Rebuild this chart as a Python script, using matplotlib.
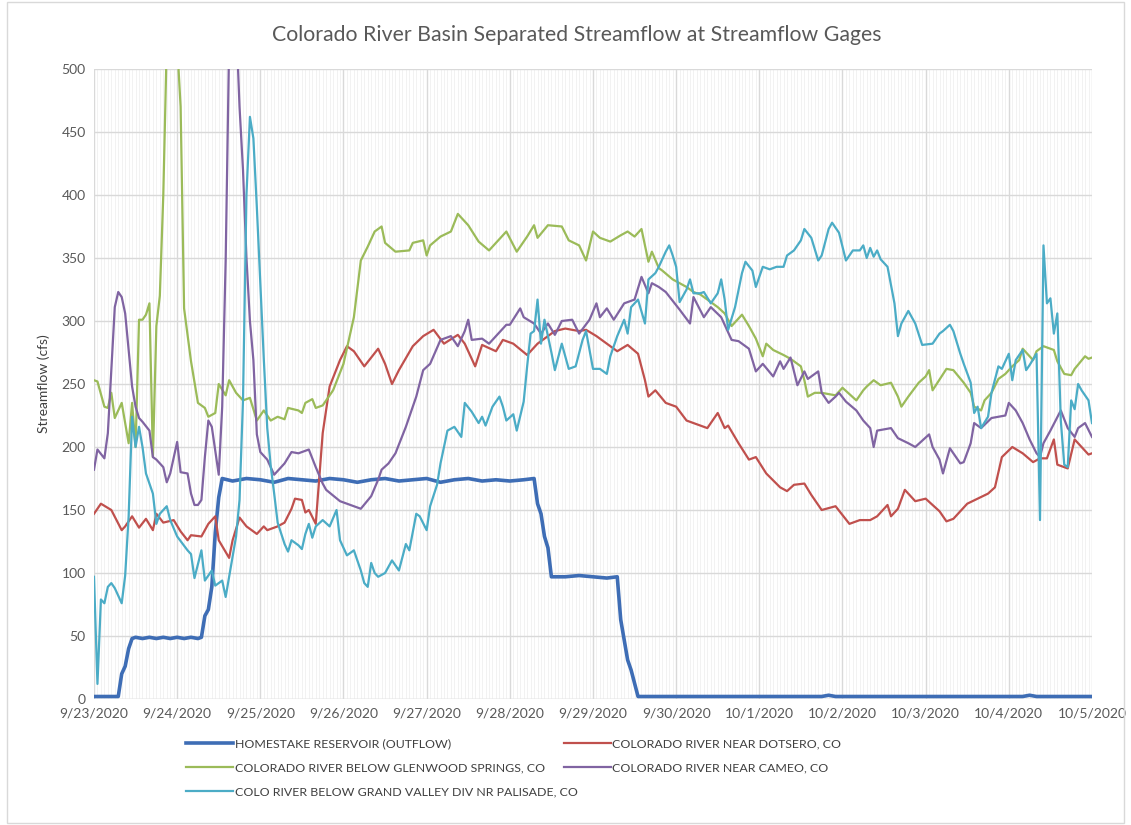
import matplotlib
matplotlib.use("Agg")
import matplotlib.pyplot as plt
from matplotlib.ticker import MultipleLocator

# hours since 9/23/2020 00:00 and streamflow (cfs)
day_labels = ["9/23/2020", "9/24/2020", "9/25/2020", "9/26/2020", "9/27/2020",
              "9/28/2020", "9/29/2020", "9/30/2020", "10/1/2020", "10/2/2020",
              "10/3/2020", "10/4/2020", "10/5/2020"]

homestake_h = [0, 7, 8, 9, 10, 11, 12, 14, 16, 18, 20, 22, 24, 26, 28, 30, 31,
               32, 33, 34, 35, 36, 37, 40, 44, 48, 52, 56, 60, 64, 68, 72, 76,
               80, 84, 88, 92, 96, 100, 104, 108, 112, 116, 120, 124, 127,
               128, 129, 130, 131, 132, 136, 140, 144, 148, 151,
               152, 153, 154, 155, 157, 180, 210, 212, 214, 240, 268, 270, 272, 288]
homestake_v = [2, 2, 20, 26, 40, 48, 49, 48, 49, 48, 49, 48, 49, 48, 49, 48, 49,
               66, 71, 89, 132, 160, 175, 173, 175, 174, 172, 175, 174, 173, 175, 174, 172,
               174, 175, 173, 174, 175, 172, 174, 175, 173, 174, 173, 174, 175,
               155, 147, 129, 120, 97, 97, 98, 97, 96, 97,
               63, 47, 31, 23, 2, 2, 2, 3, 2, 2, 2, 3, 2, 2]

dotsero_h = [0, 2, 5, 8, 9, 11, 13, 15, 17, 18, 20, 23, 25, 27, 28, 31, 33, 35, 36,
             39, 40, 42, 44, 47, 49, 50, 53, 55, 57, 58, 60, 61, 62, 64, 66, 68, 71,
             73, 75, 78, 82, 84, 86, 88, 92, 95, 98, 101, 105, 107, 110, 112, 116,
             118, 121, 125, 128, 133, 136, 140, 142, 145, 148, 151, 154, 157, 159,
             160, 162, 165, 168, 171, 173, 177, 180, 182, 183, 186, 189, 191, 194,
             198, 200, 202, 205, 207, 210, 214, 218, 221, 224, 226, 229, 230, 232,
             234, 237, 240, 244, 246, 248, 252, 255, 258, 260, 262, 265, 268, 271,
             273, 275, 277, 278, 281, 283, 285, 287, 288]
dotsero_v = [147, 155, 150, 134, 137, 145, 136, 143, 134, 147, 140, 142, 133, 126,
             130, 129, 139, 145, 126, 112, 126, 144, 137, 131, 137, 134, 137, 140,
             151, 159, 158, 148, 150, 139, 211, 248, 269, 280, 276, 264, 278, 266,
             250, 261, 280, 288, 293, 282, 289, 282, 264, 281, 276, 285, 282, 273,
             282, 292, 294, 292, 293, 288, 282, 276, 281, 274, 253, 240, 245, 235,
             232, 221, 219, 215, 227, 215, 217, 203, 190, 192, 179, 168, 165, 170,
             171, 162, 150, 153, 139, 142, 142, 145, 154, 145, 151, 166, 157, 159,
             149, 141, 143, 155, 159, 163, 168, 192, 200, 195, 188, 191, 191, 206,
             186, 183, 206, 200, 194, 195]

glenwood_h = [0, 1, 3, 4, 5, 6, 8, 10, 11, 12, 13, 14, 15, 16, 17, 18, 19, 20, 21,
              22, 23, 24, 25, 26, 28, 30, 32, 33, 35, 36, 38, 39, 41, 43, 45, 47,
              49, 51, 53, 55, 56, 59, 60, 61, 63, 64, 66, 67, 69, 72, 75, 77, 79,
              81, 83, 84, 87, 91, 92, 95, 96, 97, 100, 103, 105, 107, 108, 111,
              114, 116, 119, 122, 125, 127, 128, 131, 135, 137, 140, 142, 144, 146,
              149, 152, 154, 156, 158, 160, 161, 163, 164, 167, 171, 173, 175, 177,
              180, 182, 184, 187, 189, 191, 193, 194, 196, 199, 201, 204, 205, 206,
              208, 210, 214, 216, 220, 222, 223, 225, 227, 230, 232, 233, 235, 238,
              240, 241, 242, 246, 248, 251, 253, 254, 256, 257, 259, 261, 263, 265,
              267, 268, 271, 272, 274, 277, 278, 280, 282, 283, 286, 287, 288]
glenwood_v = [253, 252, 232, 231, 243, 223, 235, 203, 235, 200, 301, 301, 305, 314,
              192, 296, 320, 400, 520, 600, 580, 520, 470, 310, 268, 235, 231, 224,
              227, 250, 241, 253, 243, 237, 239, 221, 229, 221, 224, 222, 231, 229,
              227, 235, 238, 231, 233, 237, 245, 266, 303, 348, 359, 371, 375, 362,
              355, 356, 362, 364, 352, 360, 367, 371, 385, 379, 376, 363, 356, 362,
              371, 355, 367, 376, 366, 376, 375, 364, 360, 348, 371, 366, 363, 368,
              371, 367, 373, 347, 355, 342, 340, 333, 327, 323, 321, 317, 311, 306,
              296, 305, 296, 286, 272, 282, 277, 273, 270, 264, 253, 240, 243, 243,
              241, 247, 237, 245, 248, 253, 249, 251, 240, 232, 240, 251, 256, 261,
              245, 262, 261, 251, 243, 232, 229, 237, 243, 254, 258, 264, 269, 278,
              269, 276, 280, 277, 268, 258, 257, 262, 272, 270, 271]

cameo_h = [0, 1, 3, 4, 6, 7, 8, 9, 11, 12, 13, 14, 16, 17, 18, 20, 21, 22, 24, 25,
           27, 28, 29, 30, 31, 32, 33, 34, 36, 37, 38, 39, 40, 41, 42, 43, 44, 45,
           46, 47, 48, 50, 52, 54, 55, 57, 59, 62, 64, 66, 67, 71, 74, 77, 80, 82,
           83, 85, 87, 90, 93, 95, 97, 100, 103, 105, 107, 108, 109, 112, 114, 116,
           119, 120, 123, 124, 127, 129, 131, 133, 135, 138, 140, 143, 145, 146,
           148, 150, 153, 156, 158, 160, 161, 163, 165, 169, 172, 173, 176, 178,
           181, 184, 186, 189, 191, 193, 196, 198, 199, 201, 203, 205, 206, 209,
           210, 212, 214, 215, 217, 220, 222, 224, 225, 226, 230, 232, 235, 237,
           241, 242, 244, 245, 247, 250, 251, 253, 254, 256, 259, 263, 264, 266,
           268, 270, 272, 273, 274, 276, 279, 281, 283, 284, 286, 288]
cameo_v = [182, 198, 191, 211, 311, 323, 319, 306, 248, 232, 223, 220, 213, 192,
           190, 184, 172, 179, 204, 180, 179, 163, 154, 154, 158, 192, 221, 216,
           178, 232, 348, 520, 580, 540, 470, 420, 350, 300, 269, 210, 196, 190,
           178, 184, 187, 196, 195, 198, 184, 171, 166, 157, 154, 151, 161, 174,
           182, 187, 195, 216, 240, 261, 266, 285, 288, 280, 292, 301, 285, 286,
           282, 288, 297, 297, 310, 303, 298, 290, 298, 289, 300, 301, 290, 301,
           314, 303, 310, 301, 314, 317, 335, 322, 330, 327, 323, 309, 298, 319,
           303, 311, 303, 285, 284, 278, 260, 266, 256, 268, 262, 271, 249, 260,
           254, 260, 243, 235, 240, 243, 236, 229, 221, 215, 200, 213, 215, 207,
           203, 200, 210, 200, 190, 179, 199, 187, 188, 203, 219, 215, 223, 225,
           235, 229, 219, 206, 195, 192, 203, 213, 229, 215, 208, 215, 219, 208]

palisade_h = [0, 1, 2, 3, 4, 5, 6, 8, 9, 10, 11, 12, 13, 14, 15, 17, 18, 19, 21,
              22, 24, 27, 28, 29, 31, 32, 34, 35, 37, 38, 39, 41, 42, 43, 44, 45,
              46, 47, 48, 49, 50, 51, 52, 53, 55, 56, 57, 59, 60, 61, 62, 63, 64,
              66, 68, 70, 71, 73, 75, 77, 78, 79, 80, 81, 82, 84, 86, 88, 90, 91,
              93, 94, 96, 97, 99, 100, 102, 104, 106, 107, 109, 111, 112, 113, 115,
              117, 118, 119, 121, 122, 124, 125, 126, 127, 128, 129, 130, 132, 133,
              135, 137, 139, 141, 142, 144, 146, 148, 149, 151, 153, 154, 155, 157,
              159, 160, 162, 163, 165, 166, 167, 168, 169, 171, 172, 173, 175, 176,
              178, 180, 181, 182, 183, 185, 187, 188, 190, 191, 193, 195, 197, 199,
              200, 202, 204, 205, 207, 209, 210, 212, 213, 215, 217, 219, 221, 222,
              223, 224, 225, 226, 227, 229, 231, 232, 233, 235, 237, 239, 242, 244,
              245, 247, 248, 250, 251, 253, 254, 255, 256, 258, 259, 261, 262, 264,
              265, 266, 268, 269, 270, 272, 273, 274, 275, 276, 277, 278, 279, 280,
              281, 282, 283, 284, 285, 287, 288]
palisade_v = [97, 12, 79, 76, 89, 92, 88, 76, 98, 145, 224, 200, 216, 200, 179, 163,
              139, 147, 153, 142, 129, 118, 115, 96, 118, 94, 102, 90, 94, 81, 97,
              129, 158, 237, 400, 462, 445, 390, 330, 270, 215, 185, 163, 140, 123,
              117, 126, 122, 119, 131, 139, 128, 137, 142, 137, 150, 126, 114, 118,
              102, 92, 89, 108, 100, 97, 100, 110, 102, 123, 118, 147, 145, 134, 153,
              170, 187, 213, 216, 208, 235, 228, 219, 224, 217, 232, 240, 232, 221,
              226, 213, 236, 264, 290, 292, 317, 282, 301, 275, 261, 282, 262, 264,
              285, 292, 262, 262, 258, 272, 288, 301, 290, 311, 317, 298, 333, 338,
              343, 355, 360, 352, 343, 315, 325, 333, 322, 322, 323, 314, 322, 333,
              317, 293, 311, 338, 347, 340, 327, 343, 341, 343, 343, 352, 356, 364,
              373, 366, 348, 352, 373, 378, 370, 348, 356, 356, 360, 350, 358, 351,
              356, 349, 343, 314, 288, 298, 308, 298, 281, 282, 290, 292, 297, 292,
              274, 266, 251, 227, 232, 215, 224, 243, 264, 262, 274, 253, 269, 277,
              261, 265, 274, 142, 360, 314, 318, 290, 306, 221, 186, 184, 237, 230,
              250, 245, 237, 219]

series = [
    ("HOMESTAKE RESERVOIR (OUTFLOW)", homestake_h, homestake_v, "#3E6DB5", 2.6),
    ("COLORADO RIVER NEAR DOTSERO, CO", dotsero_h, dotsero_v, "#C0504D", 1.6),
    ("COLORADO RIVER BELOW GLENWOOD SPRINGS, CO", glenwood_h, glenwood_v, "#9BBB59", 1.6),
    ("COLORADO RIVER NEAR CAMEO, CO", cameo_h, cameo_v, "#8064A2", 1.6),
    ("COLO RIVER BELOW GRAND VALLEY DIV NR PALISADE, CO", palisade_h, palisade_v, "#4BACC6", 1.6),
]

plt.rcParams["font.family"] = ["Lato", "DejaVu Sans"]

fig = plt.figure(figsize=(11.31, 8.25), dpi=100)
ax = fig.add_axes([0.0831, 0.1527, 0.8824, 0.7637])

lines = {}
for name, h, v, color, lw in series:
    (ln,) = ax.plot(h, v, color=color, lw=lw, label=name, zorder=3)
    lines[name] = ln

ax.set_xlim(0, 288)
ax.set_ylim(0, 500)
ax.set_xticks(range(0, 289, 24))
ax.set_xticklabels(day_labels)
ax.xaxis.set_minor_locator(MultipleLocator(1))
ax.set_yticks(range(0, 501, 50))

ax.grid(which="major", color="#D9D9D9", lw=1.0, zorder=0)
ax.grid(which="minor", axis="x", color="#EDEDED", lw=0.5, zorder=0)
ax.tick_params(which="both", length=0, labelsize=10, colors="#595959", pad=6)
for s in ax.spines.values():
    s.set_visible(False)
ax.axhline(0, color="#D9D9D9", lw=1.0, zorder=1)

ax.set_ylabel("Streamflow (cfs)", fontsize=10, color="#404040", labelpad=8)
fig.text(0.51, 0.958, "Colorado River Basin Separated Streamflow at Streamflow Gages",
         fontsize=15.3, color="#595959", ha="center", va="center")

# legend as two separate columns, like the spreadsheet layout
col1 = ["HOMESTAKE RESERVOIR (OUTFLOW)", "COLORADO RIVER BELOW GLENWOOD SPRINGS, CO",
        "COLO RIVER BELOW GRAND VALLEY DIV NR PALISADE, CO"]
col2 = ["COLORADO RIVER NEAR DOTSERO, CO", "COLORADO RIVER NEAR CAMEO, CO"]
leg_kw = dict(loc="upper left", frameon=False, fontsize=8.9, handlelength=3.8,
              handletextpad=0.1, labelspacing=1.05, labelcolor="#404040")
leg1 = fig.legend([lines[n] for n in col1], col1, bbox_to_anchor=(0.155, 0.118), **leg_kw)
fig.legend([lines[n] for n in col2], col2, bbox_to_anchor=(0.489, 0.118), **leg_kw)

fig.patches.append(plt.Rectangle((0.006, 0.003), 0.988, 0.994, transform=fig.transFigure,
                                 fill=False, edgecolor="#D9D9D9", lw=1))

fig.savefig("out.png", dpi=100, facecolor="white")
